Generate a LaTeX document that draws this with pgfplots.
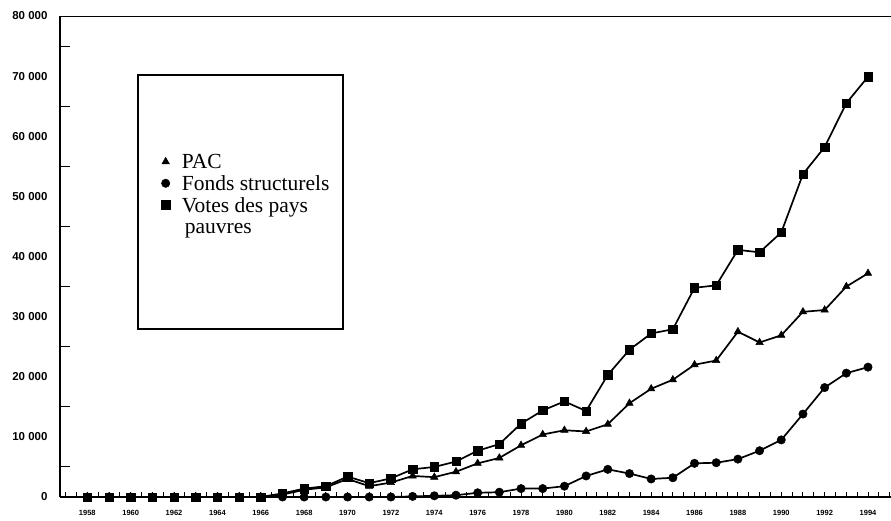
\documentclass[border=0pt]{standalone}
\usepackage{fontspec}
\setmainfont{Liberation Serif}
\setsansfont{Liberation Sans}
\usepackage{pgfplots}
\pgfplotsset{compat=1.18}
\usepackage{pgfplotstable}

\pgfplotstableread{
year pac fonds votes
1958 0 0 0
1959 0 0 0
1960 0 0 0
1961 0 0 0
1962 0 0 0
1963 0 0 0
1964 0 0 0
1965 0 0 0
1966 0 0 0
1967 400 0 600
1968 1200 0 1400
1969 1600 0 1800
1970 3000 0 3400
1971 1800 0 2300
1972 2400 0 3100
1973 3500 100 4600
1974 3300 200 5000
1975 4200 300 5900
1976 5600 700 7700
1977 6500 800 8800
1978 8600 1400 12200
1979 10400 1400 14400
1980 11100 1800 15900
1981 10900 3500 14300
1982 12100 4600 20300
1983 15600 3900 24500
1984 18000 3000 27200
1985 19500 3200 27900
1986 22000 5600 34800
1987 22700 5700 35200
1988 27500 6300 41100
1989 25700 7700 40700
1990 26900 9500 44000
1991 30800 13800 53700
1992 31100 18200 58200
1993 35000 20600 65500
1994 37200 21600 69900
}\datatable

\begin{document}
\begin{tikzpicture}
\path[use as bounding box] (-60pt,-23pt) rectangle (831pt,497pt);
\begin{axis}[
  at={(0pt,0pt)}, anchor=south west,
  width=831pt, height=481pt, scale only axis,
  xmin=1956.74, xmax=1995.06,
  ymin=0, ymax=80000,
  scaled y ticks=false,
  axis x line*=bottom, axis y line*=left,
  axis line style={line width=1.6pt, -},
  tick align=inside,
  xtick={1958,1960,...,1994},
  xticklabels={1958,1960,1962,1964,1966,1968,1970,1972,1974,1976,1978,1980,1982,1984,1986,1988,1990,1992,1994},
  ytick={0,10000,...,80000},
  yticklabels={0,10 000,20 000,30 000,40 000,50 000,60 000,70 000,80 000},
  extra y ticks={5000,15000,...,75000},
  extra y tick labels={},
  extra y tick style={major tick length=10pt, tick style={line width=1.1pt, black}},
  minor xtick={1957,1957.5,...,1995},
  major tick length=0pt,
  minor tick length=5pt,
  every minor tick/.style={line width=1pt, black},
  xticklabel style={font=\sffamily\bfseries\fontsize{7.5}{9}\selectfont, yshift=-10pt},
  yticklabel style={font=\sffamily\bfseries\fontsize{11.5}{13}\selectfont, xshift=-9pt},
  legend style={at={(rel axis cs:0.1218,0.72)}, anchor=north west, draw=none, fill=none,
    font=\fontsize{21.5}{23}\selectfont, inner sep=0pt, row sep=0pt, column sep=10pt,
    cells={anchor=west}},
  legend cell align=left,
  legend image code/.code={\path[#1] plot coordinates {(0.15cm,0cm)};},
]
\draw[line width=1.6pt] (rel axis cs:0,1) -- (rel axis cs:1,1);
\draw[line width=1.6pt] (rel axis cs:0.0939,0.877) rectangle (rel axis cs:0.3406,0.349);
\addplot[black, line width=1.7pt, mark=triangle*, mark size=4.3pt, mark options={fill=black, draw=black, line width=0.5pt}] table[x=year, y=pac] {\datatable};
\addlegendentry{\strut PAC}
\addplot[black, line width=1.7pt, mark=*, mark size=4.2pt, mark options={fill=black, draw=black, line width=0.5pt}] table[x=year, y=fonds] {\datatable};
\addlegendentry{\strut Fonds structurels}
\addplot[black, line width=1.7pt, mark=square*, mark size=4.2pt, mark options={fill=black, draw=black, line width=0.5pt}] table[x=year, y=votes] {\datatable};
\addlegendentry{\strut Votes des pays}
\addlegendimage{empty legend}
\addlegendentry{\strut\hspace{3pt}pauvres}
\end{axis}
\end{tikzpicture}
\end{document}
